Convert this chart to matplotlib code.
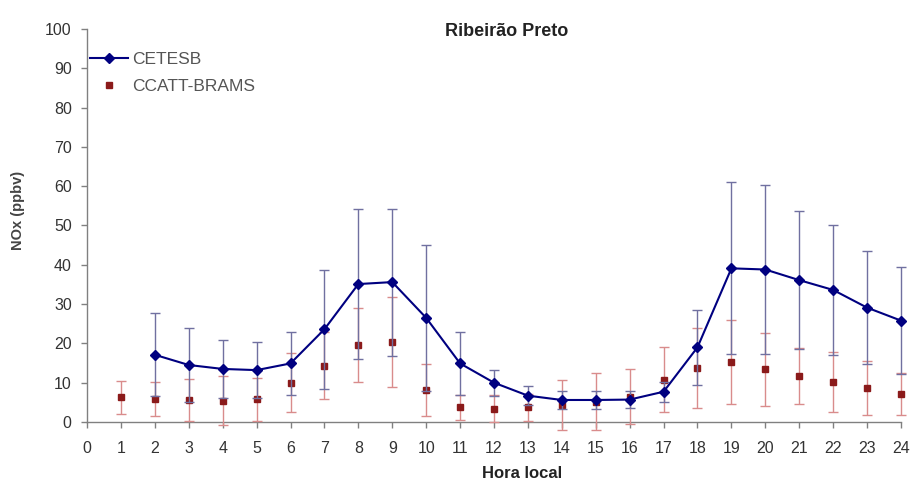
import matplotlib
matplotlib.use("Agg")
import matplotlib.pyplot as plt
from matplotlib.lines import Line2D

plt.rcParams['font.family'] = ['Liberation Sans', 'DejaVu Sans']

# Hourly NOx means and standard deviations
cetesb_hours = [2, 3, 4, 5, 6, 7, 8, 9, 10, 11, 12, 13, 14, 15, 16, 17, 18, 19, 20, 21, 22, 23, 24]
cetesb_mean = [17.1, 14.5, 13.5, 13.2, 14.9, 23.6, 35.1, 35.6, 26.5, 14.9, 10.0, 6.7, 5.6, 5.6, 5.7, 7.7, 19.0, 39.1, 38.8, 36.1, 33.6, 29.1, 25.8]
cetesb_std = [10.6, 9.3, 7.4, 7.2, 8.1, 15.2, 19.0, 18.7, 18.6, 8.1, 3.3, 2.5, 2.3, 2.4, 2.1, 2.5, 9.5, 21.9, 21.4, 17.6, 16.5, 14.4, 13.7]

brams_hours = list(range(1, 25))
brams_mean = [6.3, 5.8, 5.6, 5.4, 5.8, 10.0, 14.3, 19.6, 20.4, 8.1, 3.7, 3.4, 3.7, 4.3, 5.2, 6.4, 10.8, 13.7, 15.3, 13.4, 11.7, 10.1, 8.6, 7.1]
brams_std = [4.2, 4.3, 5.4, 6.2, 5.5, 7.5, 8.5, 9.4, 11.5, 6.7, 3.2, 3.4, 3.5, 6.4, 7.2, 7.0, 8.3, 10.1, 10.7, 9.3, 7.1, 7.6, 6.8, 5.3]

hour_ticks = list(range(0, 25))
y_ticks = list(range(0, 101, 10))

fig = plt.figure(figsize=(9.16, 4.90), dpi=100)
ax = fig.add_axes([0.095, 0.1388, 0.8886, 0.802])

axis_gray = '#808080'
text_gray = '#333333'
obs_color = '#000080'
model_color = '#8b1a1a'

# Model series: dark red squares with light red error bars
ax.errorbar(brams_hours, brams_mean, yerr=brams_std, fmt='s', color=model_color,
            markersize=5, ecolor='#d98c8c', elinewidth=1.0, capsize=3.5, capthick=1.0,
            zorder=3, clip_on=False)

# Observations: navy line with diamonds and grey-blue error bars
ax.errorbar(cetesb_hours, cetesb_mean, yerr=cetesb_std, fmt='-D', color=obs_color,
            markersize=5.5, linewidth=1.5, ecolor='#7070a0', elinewidth=1.0, capsize=3.5,
            capthick=1.0, zorder=4, clip_on=False)

ax.set_xlim(0, 24)
ax.set_ylim(0, 100)
ax.set_xticks(hour_ticks)
ax.set_yticks(y_ticks)
ax.tick_params(axis='both', direction='out', length=4, width=1, color=axis_gray,
               labelsize=11.5, labelcolor=text_gray)
ax.tick_params(axis='x', pad=10)
ax.tick_params(axis='y', pad=7)

for side in ['top', 'right']:
    ax.spines[side].set_visible(False)
for side in ['left', 'bottom']:
    ax.spines[side].set_color(axis_gray)
    ax.spines[side].set_linewidth(1.0)

ax.set_xlabel('Hora local', fontsize=12, fontweight='bold', color='#222222')
ax.xaxis.set_label_coords((522 - 87) / 814, -(466 - 422) / 393)
ax.set_ylabel('NOx (ppbv)', fontsize=10.5, fontweight='bold', color='#444444')
ax.yaxis.set_label_coords(-(87 - 25) / 814, (422 - 210) / 393)

fig.text(507 / 916, 1 - 31 / 490, 'Ribeirão Preto', ha='center', va='center',
         fontsize=13, fontweight='bold', color='#222222')

legend_handles = [
    Line2D([], [], color=obs_color, marker='D', markersize=5, linewidth=1.5),
    Line2D([], [], color=model_color, marker='s', markersize=5, linestyle='none'),
]
leg = ax.legend(legend_handles, ['CETESB', 'CCATT-BRAMS'],
                loc='upper left', bbox_to_anchor=(3 / 814, (422 - 52) / 393),
                borderaxespad=0, borderpad=0, frameon=False,
                fontsize=12.5, handlelength=2.2, handletextpad=0.2, labelspacing=0.7)
for t in leg.get_texts():
    t.set_color('#555555')

fig.savefig('out.png', dpi=100)
